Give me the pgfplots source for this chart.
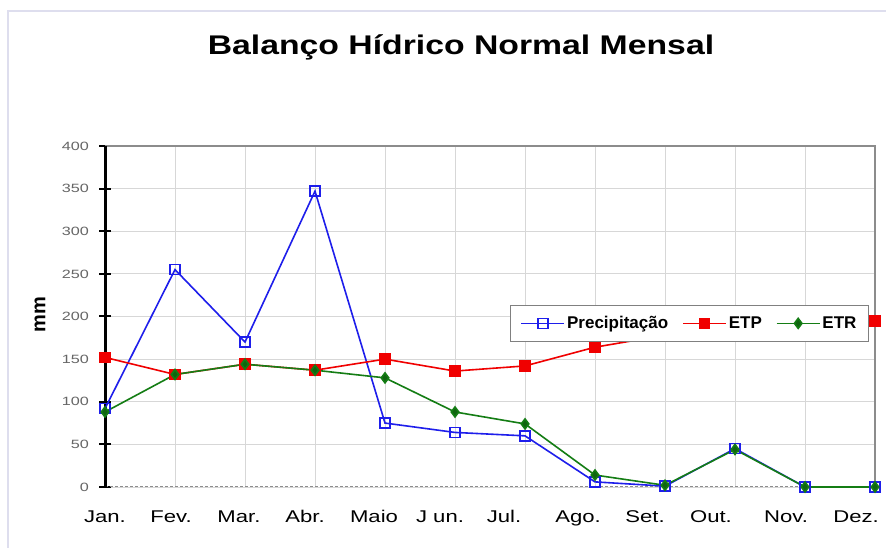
\documentclass[border=0pt]{standalone}
\usepackage{fontspec}
\setmainfont{Liberation Sans}
\usepackage{pgfplots}
\pgfplotsset{compat=1.18}
\definecolor{pblue}{RGB}{30,30,235}
\definecolor{etpred}{RGB}{240,0,0}
\definecolor{etrgreen}{RGB}{20,125,20}
\definecolor{framelav}{RGB}{222,222,238}
\definecolor{gridgray}{RGB}{215,215,215}
\begin{document}
\begin{tikzpicture}
\useasboundingbox (0,0) rectangle (886pt,548pt);
\fill[white] (0,0) rectangle (886pt,548pt);
\draw[framelav, line width=2.5pt] (8pt,0) -- (8pt,537pt) -- (886pt,537pt);
\node[anchor=base, xscale=1.25, font=\bfseries\fontsize{27}{30}\selectfont] at (461pt,493pt) {Balanço Hídrico Normal Mensal};
\node[rotate=90, font=\bfseries\fontsize{20}{22}\selectfont] at (40pt,233pt) {mm};
\begin{axis}[
  at={(105pt,61pt)}, anchor=south west,
  scale only axis, width=770pt, height=341pt,
  xmin=0, xmax=11, ymin=0, ymax=400,
  axis line style={draw=none},
  xtick={0,...,11},
  xticklabels={},
  extra x ticks={0,0.943,1.914,2.857,3.843,4.786,5.7,6.757,7.714,8.657,9.729,10.729},
  extra x tick labels={Jan.,Fev.,Mar.,Abr.,Maio,J un.,Jul.,Ago.,Set.,Out.,Nov.,Dez.},
  extra x tick style={grid=none, major tick length=0pt,
    xticklabel style={font=\fontsize{17}{20}\selectfont, xscale=1.3, anchor=base, yshift=-36pt}},
  ytick={0,50,...,400},
  grid=major,
  major grid style={gridgray, line width=0.8pt},
  xtick style={draw=none},
  ytick pos=left,
  ytick style={black, line width=2pt},
  tick align=center,
  major tick length=12pt,
  /pgf/number format/assume math mode=true,
  yticklabel style={font=\fontsize{12}{14}\selectfont, xscale=1.35, text=black!60, anchor=east, xshift=-4pt},
  legend columns=3,
  legend style={at={(axis cs:10.914,213.5)}, anchor=north east, draw=gray, line width=1pt, fill=white,
    font=\bfseries\fontsize{17}{20}\selectfont, inner xsep=10pt, inner ysep=9pt,
    /tikz/every even column/.append style={column sep=12pt}},
  legend image code/.code={\draw[#1, mark repeat=2, mark phase=2] plot coordinates {(0pt,0pt) (21.5pt,0pt) (43pt,0pt)};},
  clip=false,
]
\draw[black!45, line width=1.2pt] (axis cs:0,400) -- (axis cs:11,400) -- (axis cs:11,0);
\draw[black!45, line width=1pt, dashed, dash pattern=on 3pt off 2pt] (axis cs:0,0) -- (axis cs:11,0);
\draw[black, line width=3pt] (axis cs:0,0) -- (axis cs:0,400);
\addplot[pblue, line width=1.6pt, mark=square, mark size=5pt, mark options={fill=white, line width=1.5pt}]
  coordinates {(0,92) (1,255) (2,170) (3,347) (4,75) (5,64) (6,60) (7,6) (8,1) (9,45) (10,0) (11,0)};
\addlegendentry{Precipitação}
\addplot[etpred, line width=1.6pt, mark=square*, mark size=5pt]
  coordinates {(0,152) (1,132) (2,144) (3,137) (4,150) (5,136) (6,142) (7,164) (8,178) (9,188) (10,193) (11,195)};
\addlegendentry{ETP}
\addplot[etrgreen, line width=1.6pt, mark=diamond*, mark size=5pt, mark options={fill=etrgreen!80!black}]
  coordinates {(0,88) (1,132) (2,144) (3,137) (4,128) (5,88) (6,74) (7,14) (8,2) (9,44) (10,0) (11,0)};
\addlegendentry{ETR}
\end{axis}
\end{tikzpicture}
\end{document}
